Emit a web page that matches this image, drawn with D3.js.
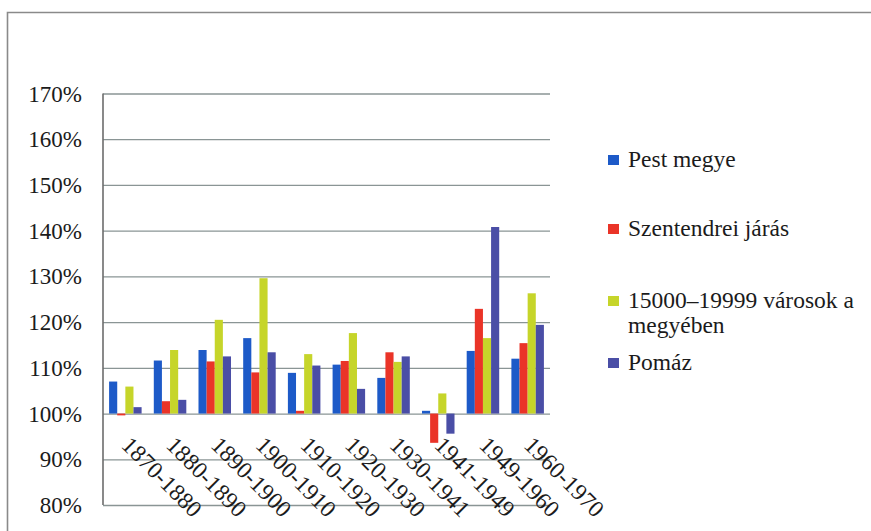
<!DOCTYPE html>
<html>
<head>
<meta charset="utf-8">
<script src="https://cdn.jsdelivr.net/npm/d3@7"></script>
<style>
  html, body { margin: 0; padding: 0; background: #fff; }
  svg { display: block; }
  .lbl { font-family: "Liberation Serif"; fill: #1b1b1b; }
</style>
</head>
<body>
<svg id="chart" width="871" height="531"></svg>
<script>
// Decades shown on the category axis
const periods = ["1870-1880", "1880-1890", "1890-1900", "1900-1910", "1910-1920",
                 "1920-1930", "1930-1941", "1941-1949", "1949-1960", "1960-1970"];

// Population growth per decade (previous census = 100%)
const pestMegye      = [107.0, 111.6, 113.9, 116.5, 108.9, 110.7, 107.8, 100.6, 113.7, 112.0];
const szentendrei    = [ 99.6, 102.7, 111.4, 109.0, 100.6, 111.5, 113.4,  93.6, 122.9, 115.4];
const varosok        = [105.9, 113.9, 120.5, 129.6, 113.0, 117.6, 111.3, 104.4, 116.5, 126.3];
const pomaz          = [101.4, 103.0, 112.5, 113.4, 110.5, 105.4, 112.5,  95.6, 140.8, 119.4];

const seriesNames  = ["Pest megye", "Szentendrei járás", "15000–19999 városok a megyében", "Pomáz"];
const seriesValues = [pestMegye, szentendrei, varosok, pomaz];
const seriesColors = ["#1d5ac8", "#ea3428", "#c6d52a", "#4a4ea6"];

const yTicks = [80, 90, 100, 110, 120, 130, 140, 150, 160, 170];

const svg = d3.select("#chart");

// Outer chart frame
svg.append("path")
  .attr("d", "M7.5,531 L7.5,12.5 L871,12.5")
  .attr("fill", "none")
  .attr("stroke", "#8a8a8a")
  .attr("stroke-width", 1.6);

const plot = { left: 103, right: 550, top: 93.5, bottom: 505 };

const y = d3.scaleLinear().domain([80, 170]).range([plot.bottom, plot.top]);

const x = d3.scaleBand()
  .domain(periods)
  .range([plot.left, plot.right])
  .paddingInner(1.5 / 5.5)
  .paddingOuter(0.75 / 5.5);

const xs = d3.scaleBand()
  .domain(d3.range(seriesNames.length))
  .range([0, x.bandwidth()]);

// Horizontal gridlines
svg.append("g")
  .attr("transform", `translate(${plot.left},0)`)
  .call(d3.axisLeft(y).tickValues(yTicks).tickSize(-(plot.right - plot.left)).tickFormat(""))
  .call(g => g.select(".domain").remove())
  .call(g => g.selectAll(".tick line")
    .attr("stroke", "#8a9595")
    .attr("stroke-width", 1.3));

// Value axis labels
svg.append("g")
  .attr("transform", `translate(${plot.left},0)`)
  .call(d3.axisLeft(y).tickValues(yTicks).tickSize(0).tickPadding(21).tickFormat(d => d + "%"))
  .call(g => g.select(".domain").remove())
  .call(g => g.attr("font-family", null).attr("font-size", null))
  .call(g => g.selectAll(".tick text")
    .attr("class", "lbl")
    .attr("font-size", 23)
    .attr("dy", "0.33em")
    .attr("fill", "#1b1b1b"));

// Bars, drawn from the 100% baseline
const groups = svg.append("g").selectAll("g")
  .data(periods)
  .join("g")
  .attr("transform", d => `translate(${x(d)},0)`);

groups.selectAll("rect")
  .data((d, i) => seriesValues.map((vals, s) => ({ s, v: vals[i] })))
  .join("rect")
  .attr("x", d => xs(d.s))
  .attr("width", xs.bandwidth())
  .attr("y", d => Math.min(y(d.v), y(100)))
  .attr("height", d => Math.max(0.8, Math.abs(y(d.v) - y(100))))
  .attr("fill", d => seriesColors[d.s]);

// Vertical axis line
svg.append("line")
  .attr("x1", plot.left).attr("x2", plot.left)
  .attr("y1", plot.top).attr("y2", plot.bottom)
  .attr("stroke", "#6c6c6c")
  .attr("stroke-width", 1.6);

// Category labels, rotated along the 100% line
svg.append("g")
  .attr("transform", `translate(0,${y(100)})`)
  .call(d3.axisBottom(x).tickSize(0).tickPadding(0))
  .call(g => g.select(".domain").remove())
  .call(g => g.attr("font-family", null).attr("font-size", null))
  .call(g => g.selectAll(".tick text")
    .attr("class", "lbl")
    .attr("y", 0)
    .attr("dy", 0)
    .attr("font-size", 23.5)
    .attr("fill", "#1b1b1b")
    .attr("text-anchor", "start")
    .attr("transform", "translate(-5,33) rotate(45)"));

// Legend
const legendItems = [
  { lines: ["Pest megye"], y: 167 },
  { lines: ["Szentendrei járás"], y: 236 },
  { lines: ["15000–19999 városok a", "megyében"], y: 308 },
  { lines: ["Pomáz"], y: 370 }
];

const legend = svg.append("g");
legendItems.forEach((item, i) => {
  legend.append("rect")
    .attr("x", 608)
    .attr("y", item.y - 12)
    .attr("width", 11)
    .attr("height", 10)
    .attr("fill", seriesColors[i]);
  const t = legend.append("text")
    .attr("class", "lbl")
    .attr("x", 628)
    .attr("y", item.y)
    .attr("font-size", 23.5);
  item.lines.forEach((ln, k) => {
    t.append("tspan").attr("x", 628).attr("dy", k === 0 ? 0 : 25).text(ln);
  });
});
</script>
</body>
</html>
